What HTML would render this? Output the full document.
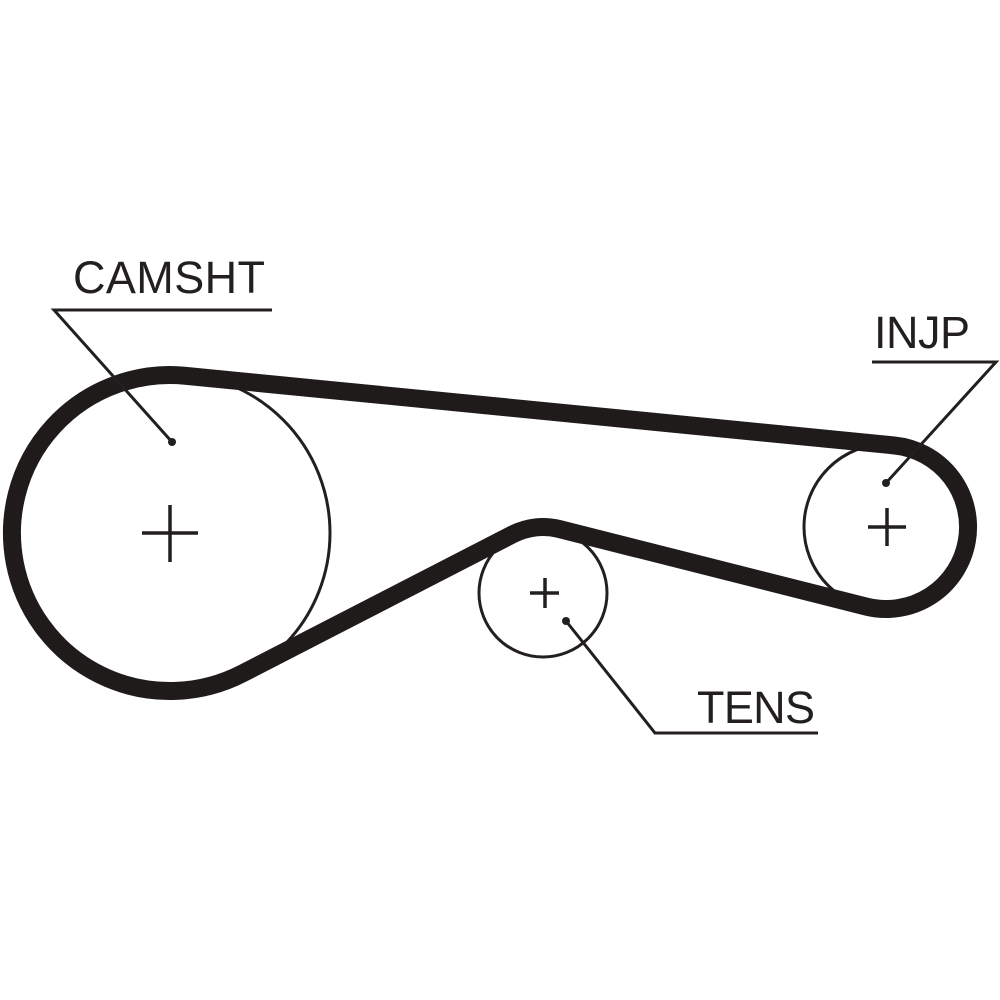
<!DOCTYPE html>
<html>
<head>
<meta charset="utf-8">
<style>
  html, body { margin: 0; padding: 0; background: #ffffff; }
  body { width: 1000px; height: 1000px; overflow: hidden; }
  svg { display: block; }
  text { font-family: "Liberation Sans", Arial, sans-serif; fill: #231f20; }
</style>
</head>
<body>
<svg width="1000" height="1000" viewBox="0 0 1000 1000" xmlns="http://www.w3.org/2000/svg">
  <rect width="1000" height="1000" fill="#ffffff"/>

  <!-- pulleys (thin circles) -->
  <circle cx="170" cy="533" r="160" fill="none" stroke="#231f20" stroke-width="3"/>
  <circle cx="887" cy="527" r="83" fill="none" stroke="#231f20" stroke-width="3"/>
  <circle cx="543" cy="593" r="64" fill="none" stroke="#231f20" stroke-width="3"/>

  <!-- belt -->
  <path d="M 185.5 375.8
           L 894 445.4
           A 82 82 0 1 1 865.9 606.5
           L 559.2 529
           A 66 66 0 0 0 512.8 534.3
           L 242.3 673.5
           A 158 158 0 1 1 185.5 375.8 Z"
        fill="none" stroke="#1f1b1b" stroke-width="18" stroke-linejoin="round"/>

  <!-- plus signs -->
  <g stroke="#231f20" stroke-width="3.5" fill="none">
    <line x1="142" y1="533" x2="198" y2="533"/>
    <line x1="170" y1="505" x2="170" y2="562"/>
    <line x1="868" y1="527" x2="906" y2="527"/>
    <line x1="887" y1="508" x2="887" y2="546"/>
    <line x1="530" y1="593" x2="559" y2="593"/>
    <line x1="545" y1="578" x2="545" y2="608"/>
  </g>

  <!-- leaders -->
  <g stroke="#231f20" stroke-width="3" fill="none" stroke-linejoin="miter">
    <polyline points="272,310 54,310 172,442"/>
    <polyline points="872,362 996,362 886,483"/>
    <polyline points="818,733 655,733 566,621"/>
  </g>
  <circle cx="172" cy="442" r="4" fill="#231f20"/>
  <circle cx="886" cy="483" r="4" fill="#231f20"/>
  <circle cx="566" cy="621" r="4" fill="#231f20"/>

  <!-- labels -->
  <text x="73" y="293" font-size="45" textLength="192" lengthAdjust="spacing">CAMSHT</text>
  <text x="874" y="348" font-size="45" textLength="96" lengthAdjust="spacing">INJP</text>
  <text x="697" y="723" font-size="45" textLength="118" lengthAdjust="spacing">TENS</text>
</svg>
</body>
</html>
